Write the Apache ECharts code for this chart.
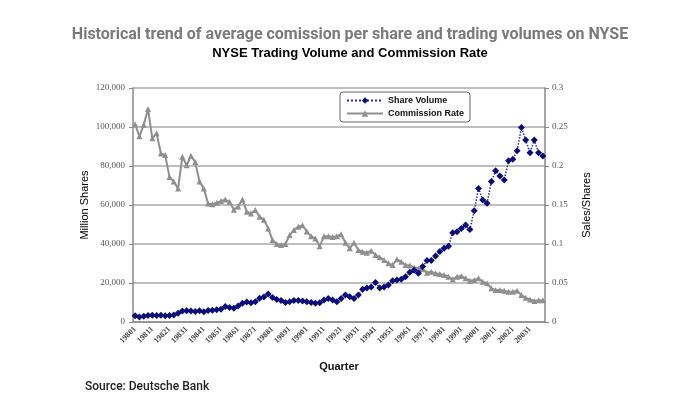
<!DOCTYPE html>
<html>
<head>
<meta charset="utf-8">
<script src="https://cdn.jsdelivr.net/npm/echarts@6/dist/echarts.min.js"></script>
<style>
html,body{margin:0;padding:0;background:#fff;}
#c{width:700px;height:400px;}
</style>
</head>
<body>
<div id="c"></div>
<script>
// Category labels: years and quarter numbers (1980Q1 .. 2003Q4)
const years = [1980,1981,1982,1983,1984,1985,1986,1987,1988,1989,1990,1991,1992,1993,1994,1995,1996,1997,1998,1999,2000,2001,2002,2003];
const quarters = [1,2,3,4];
const categories = [];
years.forEach(y => quarters.forEach(q => categories.push(String(y) + String(q))));

// Share Volume (million shares), per quarter
const shareVolume = [
  3200,2600,3000,3300, 3500,3300,3400,3200, 3300,3600,4500,5600, 5800,5600,5400,5800,
  5300,5900,6000,6300, 6500,7900,7500,7000, 8200,9600,10200,9900, 10400,12200,12800,14400,
  12600,11600,11000,10000, 10400,11000,11000,10800, 10400,10000,9600,9900, 11300,12100,11300,10400,
  12100,13800,13000,12100, 13800,16800,17400,17900, 20300,17400,17900,19000, 21200,21500,21900,23200,
  25500,26500,25000,28400, 31500,31500,33800,36100, 37800,38800,45800,46300, 48000,49700,47500,57100,
  68500,62600,60900,72000, 77600,74900,72800,82700, 83400,87800,99800,93300, 86800,93300,86800,85100
];

// Commission Rate (sales/shares), per quarter
const commissionRate = [
  0.2535,0.238,0.253,0.273, 0.2355,0.242,0.216,0.214, 0.186,0.180,0.171,0.212, 0.201,0.213,0.205,0.180,
  0.171,0.152,0.151,0.153, 0.155,0.157,0.154,0.144, 0.148,0.157,0.1415,0.139, 0.1436,0.135,0.131,0.120,
  0.105,0.100,0.0987,0.100, 0.1115,0.118,0.122,0.124, 0.116,0.110,0.107,0.097, 0.110,0.110,0.109,0.110,
  0.1125,0.1017,0.0944,0.1017, 0.0923,0.0902,0.0889,0.0915, 0.086,0.0829,0.0795,0.0752, 0.0731,0.0804,0.0774,0.0731,
  0.0725,0.070,0.069,0.0675, 0.0632,0.0645,0.0624,0.0615, 0.0603,0.0581,0.0547,0.0581, 0.059,0.056,0.053,0.0538,
  0.056,0.0517,0.0496,0.0432, 0.041,0.041,0.0402,0.0389, 0.0389,0.0402,0.0345,0.031, 0.029,0.027,0.028,0.028
];

const leftTicks = { min: 0, max: 120000, interval: 20000 };
const rightTicks = { min: 0, max: 0.3, interval: 0.05 };

const chart = echarts.init(document.getElementById('c'), null, {renderer: 'canvas'});
const serif = 'Liberation Serif';
const sans = 'Liberation Sans';

chart.setOption({
  animation: false,
  backgroundColor: '#fff',
  title: [
    { text: 'Historical trend of average comission per share and trading volumes on NYSE',
      left: 'center', top: 22,
      textStyle: { fontFamily: 'Roboto', fontWeight: 'bold', fontSize: 16, color: '#7a7a7a' } },
    { text: 'NYSE Trading Volume and Commission Rate',
      left: 'center', top: 42,
      textStyle: { fontFamily: sans, fontWeight: 'bold', fontSize: 13, color: '#000' } },
    { text: 'Source: Deutsche Bank',
      left: 80, top: 376,
      textStyle: { fontFamily: 'Roboto', fontWeight: 500, fontSize: 12, color: '#222' } }
  ],
  legend: {
    orient: 'vertical',
    left: 340, top: 92,
    backgroundColor: '#fff',
    borderColor: '#666', borderWidth: 1, borderRadius: 3,
    padding: [4, 6, 4, 6],
    itemWidth: 36, itemHeight: 8, itemGap: 4,
    textStyle: { fontFamily: sans, fontSize: 9, fontWeight: 'bold', color: '#111' },
    data: ['Share Volume', 'Commission Rate']
  },
  grid: { left: 133, right: 155, top: 88, bottom: 78, containLabel: false },
  xAxis: {
    type: 'category',
    data: categories,
    boundaryGap: true,
    name: 'Quarter',
    nameLocation: 'middle',
    nameGap: 39,
    nameTextStyle: { fontFamily: sans, fontSize: 11, fontWeight: 'bold', color: '#111' },
    axisLine: { lineStyle: { color: '#888', width: 1.5 } },
    axisTick: { interval: 0, length: 3, lineStyle: { color: '#888' } },
    axisLabel: { interval: 3, rotate: 45, fontFamily: serif, fontSize: 8, fontWeight: 'bold', color: '#444', margin: 6 },
    splitLine: { show: false }
  },
  yAxis: [
    {
      type: 'value', position: 'left',
      min: leftTicks.min, max: leftTicks.max, interval: leftTicks.interval,
      name: 'Million Shares', nameLocation: 'middle', nameGap: 43, nameMoveOverlap: false,
      nameTextStyle: { fontFamily: sans, fontSize: 11, color: '#000' },
      axisLine: { show: true, lineStyle: { color: '#888', width: 1.5 } },
      axisTick: { show: true, length: 4, lineStyle: { color: '#888' } },
      axisLabel: { fontFamily: serif, fontSize: 9, color: '#555', margin: 8,
        formatter: v => v.toLocaleString('en-US') },
      splitLine: { show: true, lineStyle: { color: '#aaa', width: 1.5 } }
    },
    {
      type: 'value', position: 'right',
      min: rightTicks.min, max: rightTicks.max, interval: rightTicks.interval,
      name: 'Sales/Shares', nameLocation: 'middle', nameGap: 36, nameRotate: 90,
      nameTextStyle: { fontFamily: sans, fontSize: 11, color: '#000' },
      axisLine: { show: true, lineStyle: { color: '#888', width: 1.5 } },
      axisTick: { show: true, length: 4, lineStyle: { color: '#888' } },
      axisLabel: { fontFamily: serif, fontSize: 9, color: '#555', margin: 7 },
      splitLine: { show: false }
    }
  ],
  series: [
    {
      name: 'Share Volume', type: 'line', yAxisIndex: 0,
      data: shareVolume,
      showAllSymbol: true,
      symbol: 'diamond', symbolSize: 7,
      itemStyle: { color: '#0b0b7a' },
      lineStyle: { color: '#2a2a9a', width: 1.5, type: 'dotted' },
      z: 3
    },
    {
      name: 'Commission Rate', type: 'line', yAxisIndex: 1,
      data: commissionRate,
      showAllSymbol: true,
      symbol: 'triangle', symbolSize: 6,
      itemStyle: { color: '#8f8f8f' },
      lineStyle: { color: '#8f8f8f', width: 2 },
      z: 2
    }
  ]
});
</script>
</body>
</html>
